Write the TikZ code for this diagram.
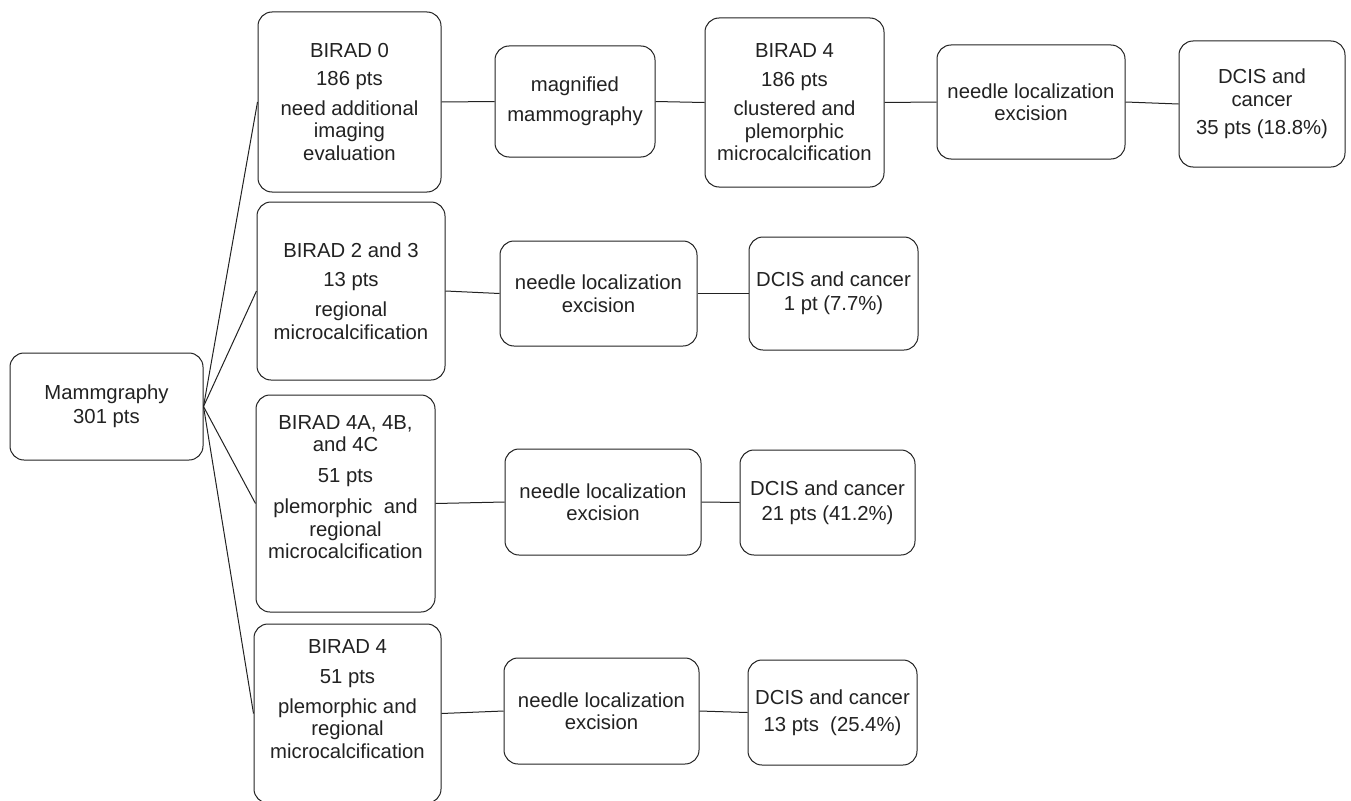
\documentclass[tikz,border=0pt]{standalone}
\usepackage{fontspec}
\setmainfont{Liberation Sans}
\definecolor{ink}{HTML}{222222}
\begin{document}
\begin{tikzpicture}[x=1pt,y=-1pt,
  box/.style={draw=ink, line width=1pt, rounded corners=14pt, align=center,
    inner sep=0pt, text=ink, font={\fontsize{20.3}{22.5}\selectfont}},
  txt/.style={align=center, inner sep=0pt, text=ink, font={\fontsize{20.3}{22.5}\selectfont}},
  link/.style={draw=ink, line width=1pt}]
\useasboundingbox (0,0) rectangle (1351,800);
\fill[white] (0,0) rectangle (1351,800);

% root
\node[box, minimum width=193pt, minimum height=107pt] (m) at (106.5,406.5)
  {Mammgraphy\\[1.5pt]301 pts};

% row 1
\node[box, minimum width=183pt, minimum height=180pt] (b0) at (349.5,102)
  {BIRAD 0\\[6pt]186 pts\\[7pt]need additional\\imaging\\evaluation};
\node[box, minimum width=160pt, minimum height=111pt] (mm) at (575,101.5)
  {magnified\\[7.5pt]mammography};
\node[box, minimum width=179pt, minimum height=169pt] (b4t) at (794.5,102.5)
  {BIRAD 4\\[6pt]186 pts\\[7pt]clustered and\\plemorphic\\microcalcification};
\node[box, minimum width=188pt, minimum height=114pt] (n1) at (1031,102)
  {needle localization\\excision};
\node[box, minimum width=166pt, minimum height=126pt] (d1) at (1262,104)
  {DCIS and\\cancer\\[6pt]35 pts (18.8\%)};

% row 2
\node[box, minimum width=188pt, minimum height=178pt] (b23) at (351,291)
  {BIRAD 2 and 3\\[7pt]13 pts\\[7.5pt]regional\\microcalcification};
\node[box, minimum width=197pt, minimum height=105pt] (n2) at (598.5,293.5)
  {needle localization\\excision};
\node[box, minimum width=169pt, minimum height=113pt] (d2) at (833.5,293.5)
  {DCIS and cancer\\[1.5pt]1 pt (7.7\%)};

% row 3
\node[box, minimum width=179pt, minimum height=217pt] (b4a) at (345.5,503.5) {};
\node[txt] (b4at) at (345.5,487)
  {BIRAD 4A, 4B,\\and 4C\\[8pt]51 pts\\[9pt]plemorphic\ \ and\\regional\\microcalcification};
\node[box, minimum width=196pt, minimum height=106pt] (n3) at (603,502)
  {needle localization\\excision};
\node[box, minimum width=175pt, minimum height=105pt] (d3) at (827.5,502.5)
  {DCIS and cancer\\[2.5pt]21 pts (41.2\%)};

% row 4
\node[box, minimum width=187pt, minimum height=179pt] (b4b) at (347.5,713.5) {};
\node[txt] (b4bt) at (347.5,699)
  {BIRAD 4\\[7pt]51 pts\\[7.5pt]plemorphic and\\regional\\microcalcification};
\node[box, minimum width=195pt, minimum height=106pt] (n4) at (601.5,711)
  {needle localization\\excision};
\node[box, minimum width=169pt, minimum height=105pt] (d4) at (832.5,712.5)
  {DCIS and cancer\\[4pt]13 pts\ \ (25.4\%)};

% connectors
\draw[link] (m.east) -- (b0.west);
\draw[link] (m.east) -- (b23.west);
\draw[link] (m.east) -- (b4a.west);
\draw[link] (m.east) -- (b4b.west);

\draw[link] (b0.east) -- (mm.west);
\draw[link] (mm.east) -- (b4t.west);
\draw[link] (b4t.east) -- (n1.west);
\draw[link] (n1.east) -- (d1.west);

\draw[link] (b23.east) -- (n2.west);
\draw[link] (n2.east) -- (d2.west);

\draw[link] (b4a.east) -- (n3.west);
\draw[link] (n3.east) -- (d3.west);

\draw[link] (b4b.east) -- (n4.west);
\draw[link] (n4.east) -- (d4.west);
\end{tikzpicture}
\end{document}
